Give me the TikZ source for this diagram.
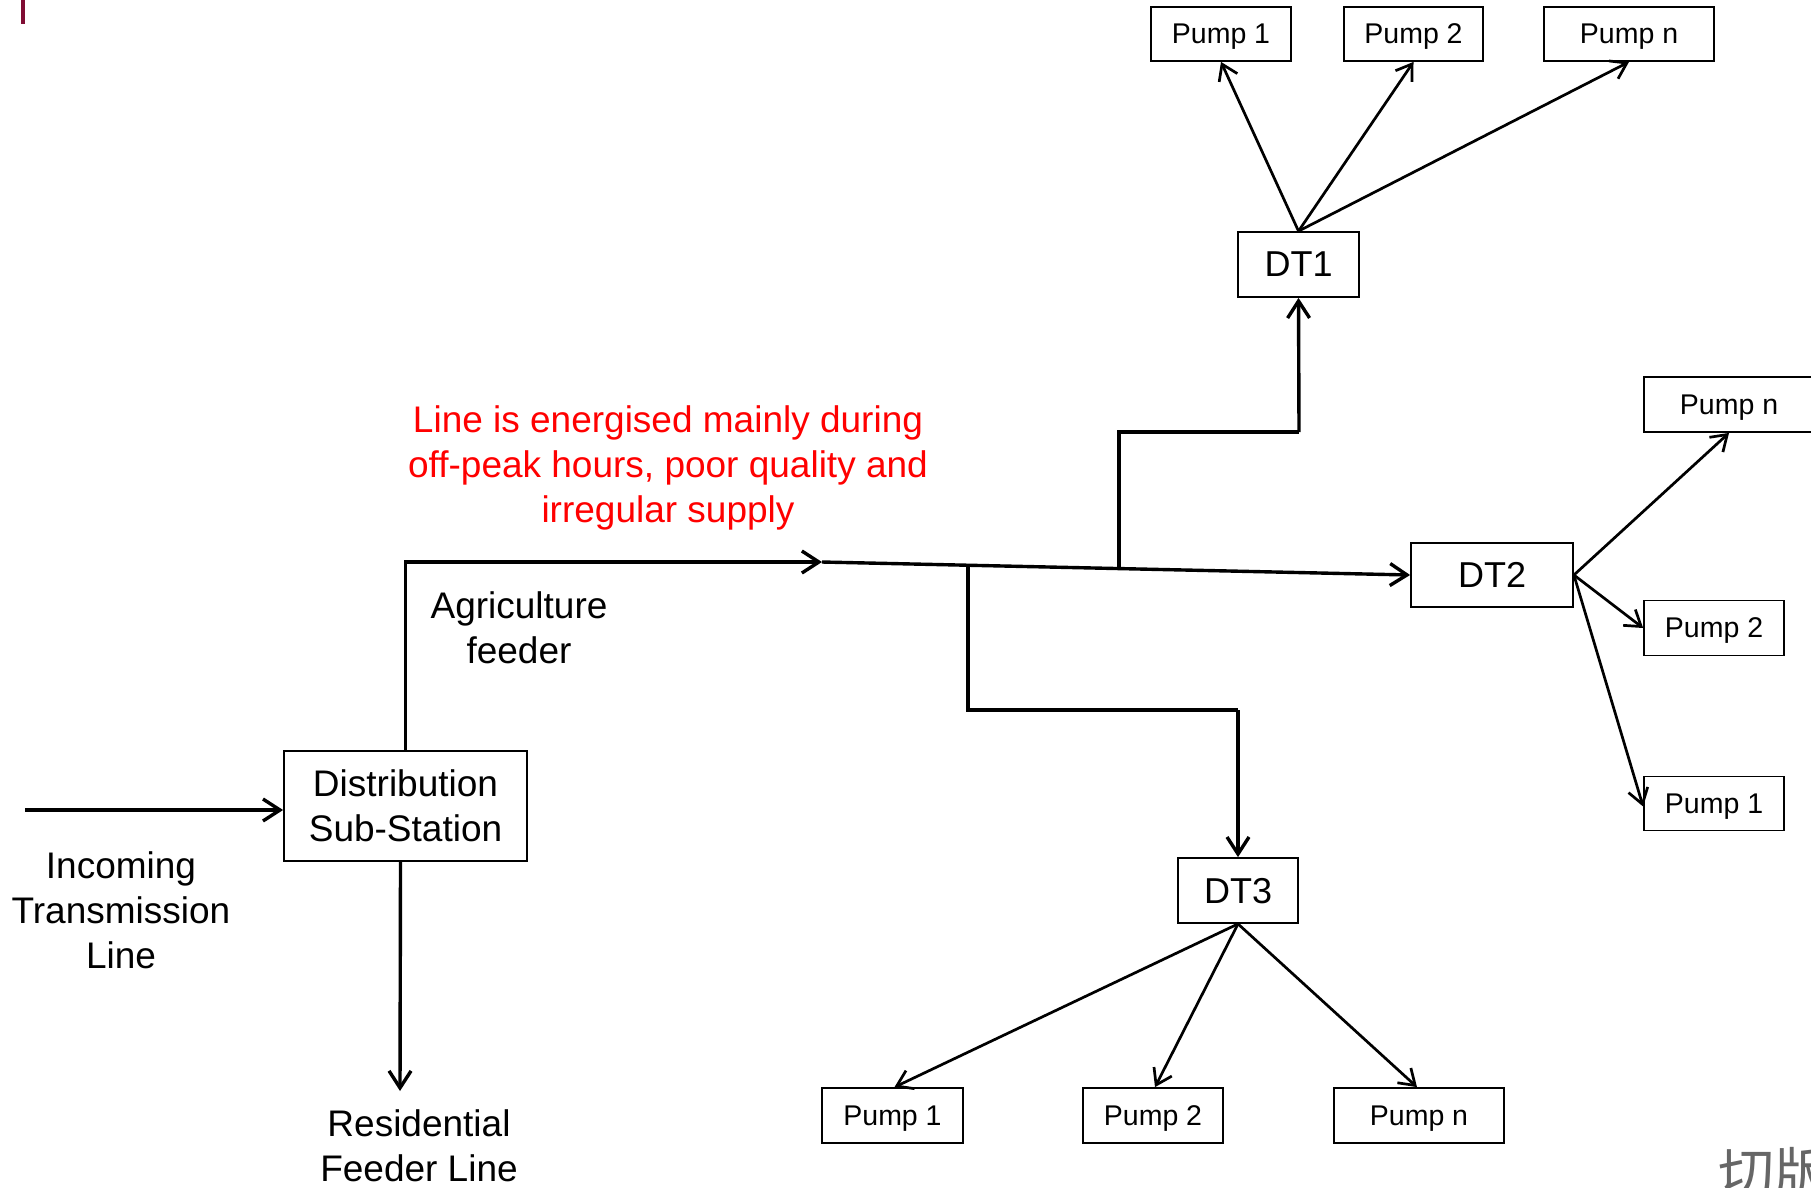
\documentclass[tikz,border=0pt]{standalone}
\usepackage{fontspec}
\setmainfont{Liberation Sans}
\newfontfamily\cjkfont{Noto Sans CJK SC}
\usetikzlibrary{arrows.meta}
\definecolor{barred}{HTML}{800D33}
\begin{document}
\begin{tikzpicture}[x=1pt,y=-1pt,
  box/.style={draw,line width=1.8pt,inner sep=0pt,align=center},
  pumpbox/.style={box,minimum height=54pt,text depth=0pt,font=\fontsize{28.5}{34}\selectfont},
  dtbox/.style={box,minimum height=65pt,text depth=0pt,font=\fontsize{36}{43}\selectfont},
  lbl/.style={align=center,inner sep=0pt,font=\fontsize{37}{45}\selectfont},
  feed/.style={line width=3.4pt,-{Straight Barb[length=17pt,width=22pt,line width=3.4pt]}},
  feedline/.style={line width=3.4pt},
  arr/.style={line width=2.7pt,-{Straight Barb[length=15pt,width=20pt,line width=2.7pt]}}]
\useasboundingbox (0,0) rectangle (1811,1187);
\fill[white] (0,0) rectangle (1811,1187);
\fill[barred] (21,0) rectangle (25,24);

% main nodes
\node[box,minimum width=243pt,minimum height=110pt,font=\fontsize{37}{45}\selectfont] (dss) at (405.5,806) {Distribution\\Sub-Station};
\node[dtbox,minimum width=121pt] (dt1) at (1298.5,264.5) {DT1};
\node[dtbox,minimum width=162pt,minimum height=64pt] (dt2) at (1492,575) {DT2};
\node[dtbox,minimum width=120pt] (dt3) at (1238,890.5) {DT3};

% pumps of DT1
\node[pumpbox,minimum width=140pt] (p11) at (1221,34) {Pump 1};
\node[pumpbox,minimum width=139pt] (p12) at (1413.5,34) {Pump 2};
\node[pumpbox,minimum width=170pt] (p1n) at (1629,34) {Pump n};
% pumps of DT2
\node[pumpbox,minimum width=170pt,minimum height=55pt] (p2n) at (1729,404.5) {Pump n};
\node[pumpbox,minimum width=140pt,minimum height=55pt] (p22) at (1714,628) {Pump 2};
\node[pumpbox,minimum width=140pt] (p21) at (1714,803.5) {Pump 1};
% pumps of DT3
\node[pumpbox,minimum width=141pt,minimum height=55pt] (p31) at (892.5,1115.5) {Pump 1};
\node[pumpbox,minimum width=140pt,minimum height=55pt] (p32) at (1153,1115.5) {Pump 2};
\node[pumpbox,minimum width=170pt,minimum height=55pt] (p3n) at (1419,1115.5) {Pump n};

% labels
\node[lbl] (inc) at (121,910) {Incoming\\Transmission\\Line};
\node[lbl] (res) at (419,1146) {Residential\\Feeder Line};
\node[lbl] (agr) at (519,628) {Agriculture\\feeder};
\node[lbl,text=red] (note) at (668,468) {Line is energised mainly during\\off-peak hours, poor quality and\\irregular supply};

% coordinates
\coordinate (incstart) at (25,810);
\coordinate (resend) at (400,1091);
\coordinate (agrtip) at (822,562);
\coordinate (j3) at (968,565);
\coordinate (j1) at (1119,568);
\coordinate (c3) at (1238,710);
\coordinate (c1) at (1299,432);

% feeders
\draw[feed] (incstart) -- ([yshift=-4pt]dss.west);
\draw[feed] ([xshift=-5pt]dss.south) -- (resend);
\draw[feed] (dss.north) |- (agrtip);
\draw[feed] (agrtip) -- (dt2.west);
\draw[feedline] (j3) |- (c3);
\draw[feed] (c3) -- (dt3.north);
\draw[feedline] (j1) |- (c1);
\draw[feed] (c1) -- (dt1.south);

% distribution arrows
\draw[arr] (dt1.north) -- (p11.south);
\draw[arr] (dt1.north) -- (p12.south);
\draw[arr] (dt1.north) -- (p1n.south);
\draw[arr] (dt2.east) -- (p2n.south);
\draw[arr] (dt2.east) -- (p22.west);
\draw[arr] (dt2.east) -- ([yshift=-3pt]p21.west);
\draw[arr] (dt3.south) -- ([xshift=2pt]p31.north);
\draw[arr] (dt3.south) -- ([xshift=2pt]p32.north);
\draw[arr] (dt3.south) -- ([xshift=-2pt]p3n.north);

% corner fragment
\begin{scope}
\clip (0,0) rectangle (1811,1187);
\node[anchor=north west,inner sep=0pt,text=black!60,font=\cjkfont\fontsize{56}{60}\selectfont] (frag) at (1718,1147) {切版};
\end{scope}
\end{tikzpicture}
\end{document}
